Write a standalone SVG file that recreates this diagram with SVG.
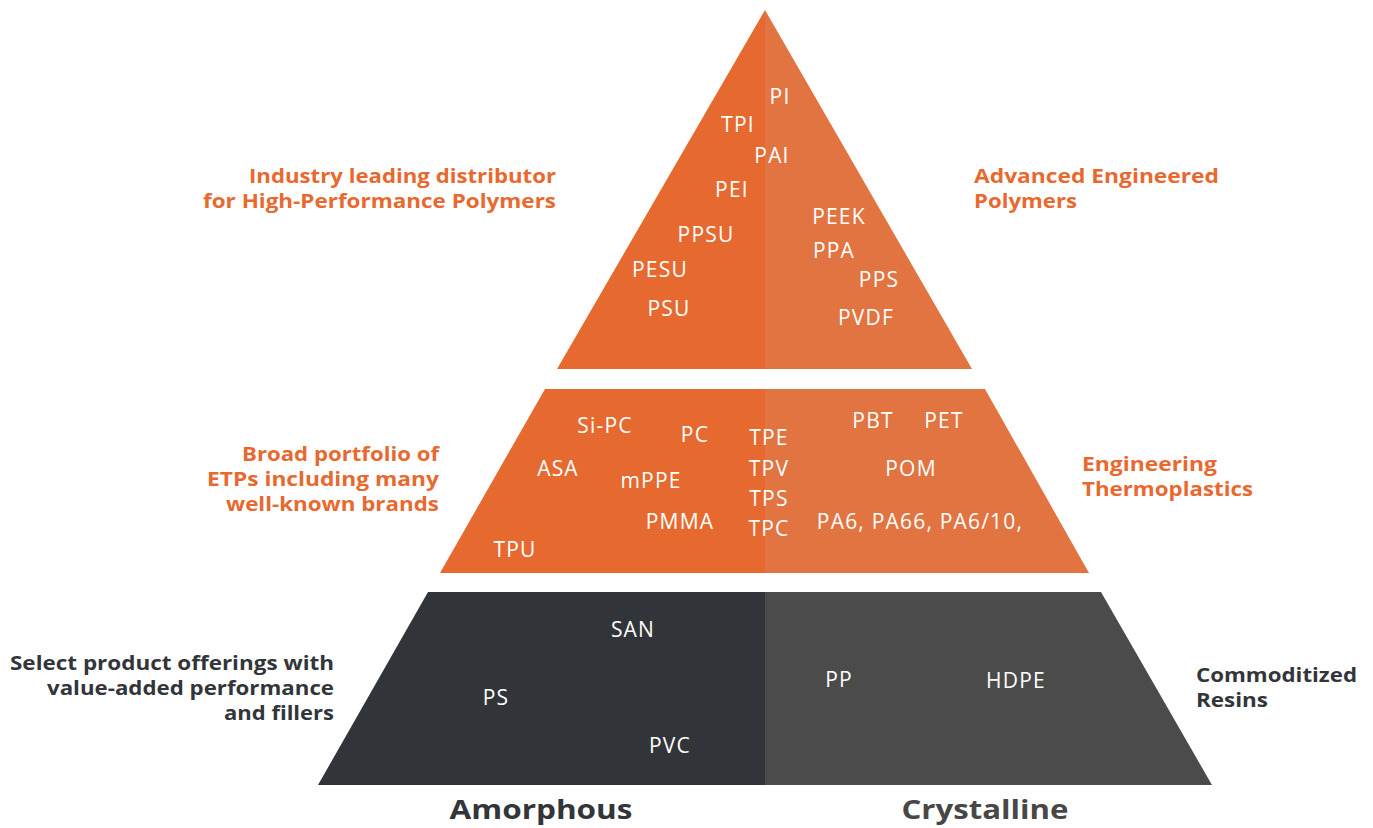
<svg xmlns="http://www.w3.org/2000/svg" width="1373" height="828" viewBox="0 0 1373 828">
<style>
.item{font-family:"Open Sans","Liberation Sans",sans-serif;font-size:21px;letter-spacing:1.2px;fill:#ffffff;text-anchor:middle}
.lab{font-family:"Open Sans","Liberation Sans",sans-serif;font-size:19px;font-weight:700}
.or{fill:#E8692F}
.dk{fill:#32363A}
.r{text-anchor:end}
.axis{font-family:"Open Sans","Liberation Sans",sans-serif;font-size:27px;font-weight:700;text-anchor:middle}
</style>
<rect width="1373" height="828" fill="#ffffff"/>
<g id="tier-top">
<polygon points="765,10 765,369 557,369" fill="#E66A2F"/>
<polygon points="765,10 972,369 765,369" fill="#E27442"/>
<text class="item" x="780" y="104">PI</text>
<text class="item" x="738" y="132">TPI</text>
<text class="item" x="772" y="163">PAI</text>
<text class="item" x="732" y="197">PEI</text>
<text class="item" x="839" y="224">PEEK</text>
<text class="item" x="706" y="242">PPSU</text>
<text class="item" x="834" y="258">PPA</text>
<text class="item" x="660" y="277">PESU</text>
<text class="item" x="879" y="287">PPS</text>
<text class="item" x="669" y="316">PSU</text>
<text class="item" x="866" y="325">PVDF</text>
</g>
<g id="tier-middle">
<polygon points="545,389 765,389 765,573 440,573" fill="#E66A2F"/>
<polygon points="765,389 985,389 1089,573 765,573" fill="#E27442"/>
<text class="item" x="605" y="433">Si-PC</text>
<text class="item" x="695" y="442">PC</text>
<text class="item" x="769" y="445">TPE</text>
<text class="item" x="873" y="428">PBT</text>
<text class="item" x="944" y="428">PET</text>
<text class="item" x="558" y="476">ASA</text>
<text class="item" x="769" y="476">TPV</text>
<text class="item" x="911" y="476">POM</text>
<text class="item" x="651" y="488">mPPE</text>
<text class="item" x="769" y="506">TPS</text>
<text class="item" x="680" y="529">PMMA</text>
<text class="item" x="769" y="536">TPC</text>
<text class="item" x="920" y="529">PA6, PA66, PA6/10,</text>
<text class="item" x="515" y="557">TPU</text>
</g>
<g id="tier-bottom">
<polygon points="428,592 765,592 765,785 318,785" fill="#313539"/>
<polygon points="765,592 1101,592 1212,785 765,785" fill="#4B4B4B"/>
<text class="item" x="633" y="637">SAN</text>
<text class="item" x="496" y="705">PS</text>
<text class="item" x="670" y="753">PVC</text>
<text class="item" x="839" y="687">PP</text>
<text class="item" x="1016" y="688">HDPE</text>
</g>
<g id="label-hpp">
<text class="lab or r" x="556" y="183" textLength="307" lengthAdjust="spacingAndGlyphs">Industry leading distributor</text>
<text class="lab or r" x="556" y="208" textLength="353" lengthAdjust="spacingAndGlyphs">for High-Performance Polymers</text>
</g>
<g id="label-aep">
<text class="lab or" x="974" y="183" textLength="245" lengthAdjust="spacingAndGlyphs">Advanced Engineered</text>
<text class="lab or" x="974" y="208" textLength="103" lengthAdjust="spacingAndGlyphs">Polymers</text>
</g>
<g id="label-etp">
<text class="lab or r" x="439" y="461" textLength="197" lengthAdjust="spacingAndGlyphs">Broad portfolio of</text>
<text class="lab or r" x="439" y="486" textLength="232" lengthAdjust="spacingAndGlyphs">ETPs including many</text>
<text class="lab or r" x="439" y="511" textLength="213" lengthAdjust="spacingAndGlyphs">well-known brands</text>
</g>
<g id="label-et">
<text class="lab or" x="1082" y="471" textLength="135" lengthAdjust="spacingAndGlyphs">Engineering</text>
<text class="lab or" x="1082" y="496" textLength="171" lengthAdjust="spacingAndGlyphs">Thermoplastics</text>
</g>
<g id="label-select">
<text class="lab dk r" x="334" y="670" textLength="324" lengthAdjust="spacingAndGlyphs">Select product offerings with</text>
<text class="lab dk r" x="334" y="695" textLength="287" lengthAdjust="spacingAndGlyphs">value-added performance</text>
<text class="lab dk r" x="334" y="720" textLength="110" lengthAdjust="spacingAndGlyphs">and fillers</text>
</g>
<g id="label-commodity">
<text class="lab dk" x="1196" y="682" textLength="161" lengthAdjust="spacingAndGlyphs">Commoditized</text>
<text class="lab dk" x="1196" y="707" textLength="72" lengthAdjust="spacingAndGlyphs">Resins</text>
</g>
<g id="axis-labels">
<text class="axis" x="541" y="819" fill="#32363A" textLength="183" lengthAdjust="spacingAndGlyphs">Amorphous</text>
<text class="axis" x="985" y="819" fill="#474747" textLength="167" lengthAdjust="spacingAndGlyphs">Crystalline</text>
</g>
</svg>
